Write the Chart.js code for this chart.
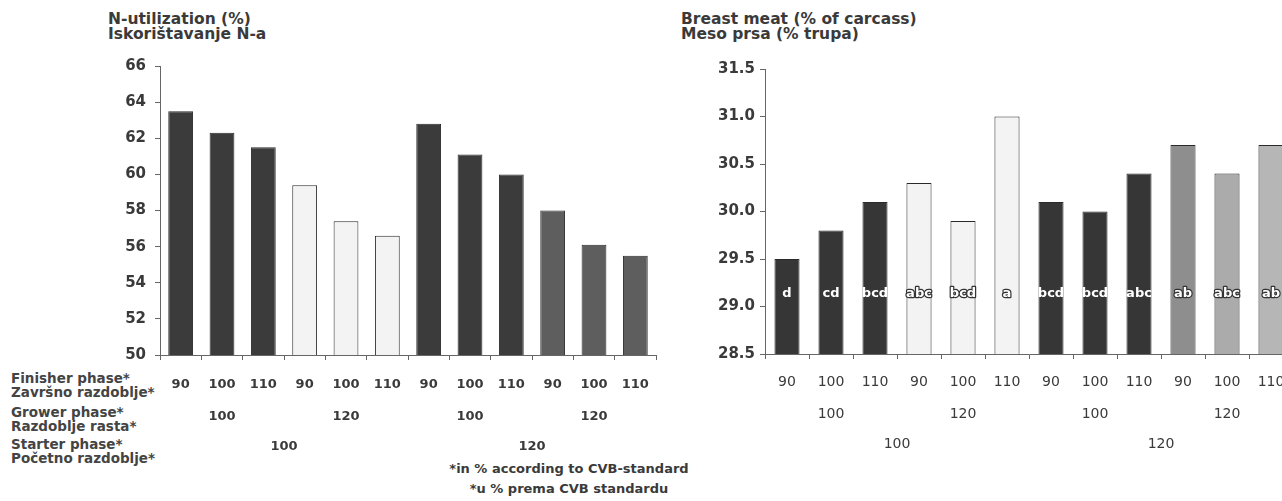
<!DOCTYPE html>
<html>
<head>
<meta charset="utf-8">
<script src="https://cdn.jsdelivr.net/npm/chart.js@4.4.1/dist/chart.umd.min.js"></script>
<style>
  html, body { margin: 0; padding: 0; overflow: hidden; background: #fff; }
  body { width: 1282px; height: 501px; position: relative; font-family: "DejaVu Sans", sans-serif; color: #3a3a3a; }
  .txt { position: absolute; white-space: nowrap; font-weight: bold; }
  .title { font-size: 15.5px; line-height: 15px; }
  .row { font-size: 13.5px; line-height: 14px; color: #444; }
  .note { font-size: 13px; line-height: 20px; text-align: center; width: 400px; }
  .wrap { position: absolute; top: 0; height: 501px; }
</style>
</head>
<body>

<div class="txt title" style="left:108px; top:12px">N-utilization (%)<br>Iskorištavanje N-a</div>
<div class="txt title" style="left:681px; top:12px">Breast meat (% of carcass)<br>Meso prsa (% trupa)</div>

<div class="txt row" style="left:11px; top:371px">Finisher phase*<br>Završno razdoblje*</div>
<div class="txt row" style="left:11px; top:405px">Grower phase*<br>Razdoblje rasta*</div>
<div class="txt row" style="left:11px; top:437px">Starter phase*<br>Početno razdoblje*</div>

<div class="txt note" style="left:369px; top:459px">*in % according to CVB-standard<br>*u % prema CVB standardu</div>

<div class="wrap" style="left:0; width:680px"><canvas id="nChart"></canvas></div>
<div class="wrap" style="left:680px; width:630px"><canvas id="bChart"></canvas></div>

<script>
// x-axis groups (in % according to CVB standard)
const finisher = ["90", "100", "110", "90", "100", "110", "90", "100", "110", "90", "100", "110"];
const grower = ["100", "120", "100", "120"];
const starter = ["100", "120"];

// N-utilization (%)
const nUtil = [63.5, 62.3, 61.5, 59.4, 57.4, 56.6, 62.8, 61.1, 60.0, 58.0, 56.1, 55.5];
// Breast meat (% of carcass)
const breast = [29.5, 29.8, 30.1, 30.3, 29.9, 31.0, 30.1, 30.0, 30.4, 30.7, 30.4, 30.7];
const breastLetters = ["d", "cd", "bcd", "abc", "bcd", "a", "bcd", "bcd", "abc", "ab", "abc", "ab"];

const nColors = ["#3b3b3b", "#3b3b3b", "#3b3b3b", "#f3f3f3", "#f3f3f3", "#f3f3f3",
                 "#3b3b3b", "#3b3b3b", "#3b3b3b", "#5e5e5e", "#5e5e5e", "#5e5e5e"];
const bColors = ["#363636", "#363636", "#363636", "#f3f3f3", "#f3f3f3", "#f3f3f3",
                 "#363636", "#363636", "#363636", "#8e8e8e", "#ababab", "#b6b6b6"];

const AXIS = "#666";

// letters inside the breast meat bars
const lettersPlugin = {
  id: "letters",
  afterDatasetsDraw(chart) {
    const ctx = chart.ctx;
    const y = chart.scales.y.getPixelForValue(29.14);
    ctx.save();
    ctx.font = "bold 13px 'DejaVu Sans'";
    ctx.textAlign = "center";
    ctx.textBaseline = "middle";
    ctx.lineJoin = "round";
    chart.getDatasetMeta(0).data.forEach((bar, i) => {
      const light = i >= 3 && i <= 5 || i >= 9;
      if (light) {
        ctx.strokeStyle = "#333";
        ctx.lineWidth = 2.5;
        ctx.strokeText(breastLetters[i], bar.x, y);
      }
      ctx.fillStyle = "#fff";
      ctx.fillText(breastLetters[i], bar.x, y);
    });
    ctx.restore();
  }
};

function makeChart(id, values, c) {
  const xFont = c.xFont;
  return new Chart(document.getElementById(id), {
    type: "bar",
    data: {
      labels: finisher,
      datasets: [{
        data: values,
        backgroundColor: c.colors,
        borderColor: "#2a2a2a",
        borderWidth: 1,
        categoryPercentage: 1,
        barPercentage: c.barPct
      }]
    },
    options: {
      responsive: true,
      maintainAspectRatio: false,
      animation: false,
      layout: { padding: c.padding },
      plugins: { legend: { display: false }, tooltip: { enabled: false } },
      scales: {
        y: {
          min: c.min, max: c.max,
          ticks: {
            stepSize: c.step,
            padding: c.yPad,
            color: "#3a3a3a",
            font: { family: "DejaVu Sans", size: 15, weight: "bold" },
            callback: v => c.dec ? Number(v).toFixed(1) : v
          },
          grid: { drawOnChartArea: false, tickLength: 5, color: AXIS },
          border: { color: AXIS },
          afterFit: s => { s.width = c.yWidth; }
        },
        x: {
          weight: 0,
          ticks: { padding: c.xPad[0], color: "#3a3a3a", font: xFont },
          grid: { drawOnChartArea: false, tickLength: 5, color: AXIS },
          border: { color: AXIS },
          afterFit: s => { s.height = 45; }
        },
        x2: {
          type: "category", labels: grower, position: "bottom", weight: 1, offset: true,
          ticks: { padding: c.xPad[1], color: "#3a3a3a", font: xFont },
          grid: { display: false, drawTicks: false }, border: { display: false },
          afterFit: s => { s.height = 30; }
        },
        x3: {
          type: "category", labels: starter, position: "bottom", weight: 2, offset: true,
          ticks: { padding: c.xPad[2], color: "#3a3a3a", font: xFont },
          grid: { display: false, drawTicks: false }, border: { display: false },
          afterFit: s => { s.height = 40; }
        }
      }
    },
    plugins: c.plugins || []
  });
}

makeChart("nChart", nUtil, {
  colors: nColors, barPct: 0.6,
  min: 50, max: 66, step: 2, dec: false,
  yWidth: 160, yPad: 9,
  padding: { left: 0, top: 66, right: 24, bottom: 31 },
  xPad: [17, 9, 9],
  xFont: { family: "DejaVu Sans", size: 13, weight: "bold" }
});

makeChart("bChart", breast, {
  colors: bColors, barPct: 0.57,
  min: 28.5, max: 31.5, step: 0.5, dec: true,
  yWidth: 85, yPad: 5,
  padding: { left: 0, top: 69, right: 17, bottom: 32 },
  xPad: [15, 7, 7],
  xFont: { family: "DejaVu Sans", size: 14 },
  plugins: [lettersPlugin]
});
</script>
</body>
</html>
